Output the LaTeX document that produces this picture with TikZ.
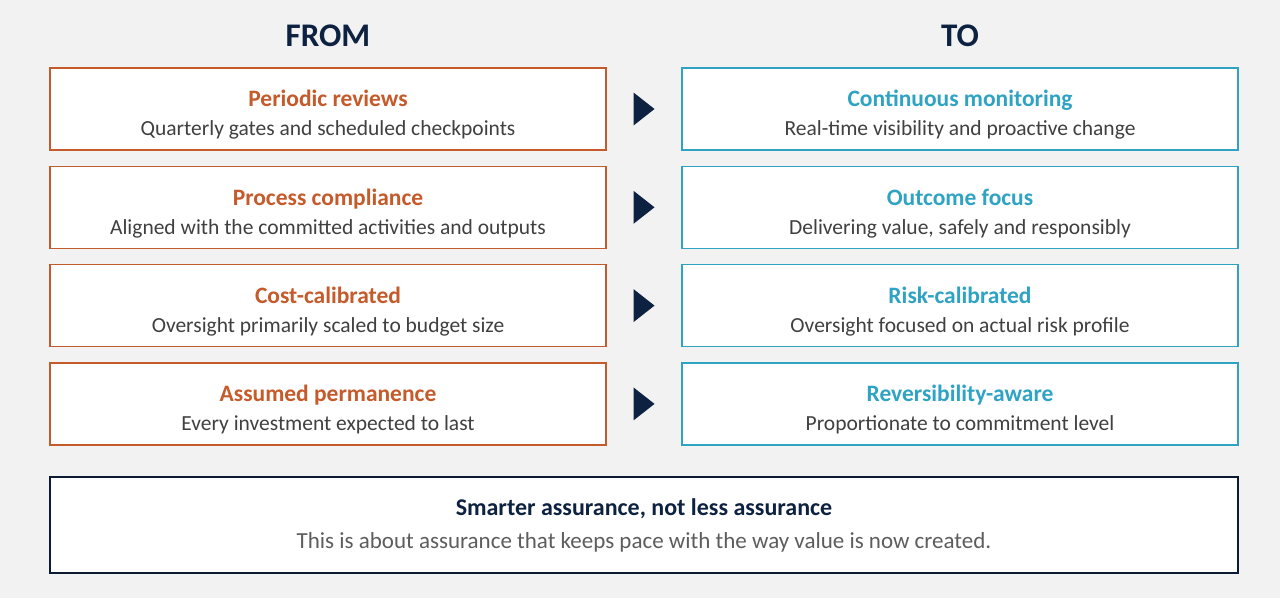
\documentclass[tikz,border=0pt]{standalone}
\usepackage{fontspec}
\setmainfont{Carlito}
\usepackage{tikz}
\usetikzlibrary{positioning}
\usetikzlibrary{calc}

\definecolor{navy}{HTML}{0D2240}
\definecolor{rust}{HTML}{C55A2A}
\definecolor{teal}{HTML}{2FA3C4}
\definecolor{slate}{HTML}{404040}
\definecolor{paper}{HTML}{F2F2F2}

\newcommand{\pair}[3]{{\color{#1}\bfseries\fontsize{23.5}{29}\selectfont\rule{0pt}{28.5pt}#2}\\{\color{slate}\fontsize{21.5}{29}\selectfont #3}}

\begin{document}
\begin{tikzpicture}

  \tikzstyle{frombox}=[rectangle, draw = rust, line width = 1.3pt, fill = white, minimum width = 556pt, minimum height = 82pt, align = center, inner sep = 0pt, node distance = 15pt, font = \fontsize{22}{29}\selectfont]
  \tikzstyle{tobox}=[frombox, draw = teal]
  \tikzstyle{heading}=[text = navy, font = \bfseries\fontsize{33}{38}\selectfont]
  \tikzstyle{pointer}=[fill = navy]

  \fill[paper] (0,0) rectangle (1280pt,-598pt);
  \useasboundingbox (0,0) rectangle (1280pt,-598pt);

  \node[frombox] (from1) at (328pt,-109pt) {\pair{rust}{Periodic reviews}{Quarterly gates and scheduled checkpoints}};
  \node[frombox] (from2) [below = of from1] {\pair{rust}{Process compliance}{Aligned with the committed activities and outputs}};
  \node[frombox] (from3) [below = of from2] {\pair{rust}{Cost-calibrated}{Oversight primarily scaled to budget size}};
  \node[frombox] (from4) [below = of from3] {\pair{rust}{Assumed permanence}{Every investment expected to last}};

  \node[tobox] (to1) at (960pt,-109pt) {\pair{teal}{Continuous monitoring}{Real-time visibility and proactive change}};
  \node[tobox] (to2) [below = of to1] {\pair{teal}{Outcome focus}{Delivering value, safely and responsibly}};
  \node[tobox] (to3) [below = of to2] {\pair{teal}{Risk-calibrated}{Oversight focused on actual risk profile}};
  \node[tobox] (to4) [below = of to3] {\pair{teal}{Reversibility-aware}{Proportionate to commitment level}};

  \node[heading] (from) [above = 17pt of from1] {FROM};
  \node[heading] (to) [above = 17pt of to1] {TO};

  % arrows between the columns
  \foreach \i in {1,...,4} {
    \coordinate (mid\i) at ($(from\i.east)!0.5!(to\i.west)$);
    \fill[pointer] ($(mid\i)+(-10.5pt,16.5pt)$) -- ($(mid\i)+(10.5pt,0pt)$) -- ($(mid\i)+(-10.5pt,-16.5pt)$) -- cycle;
  }

  \node[rectangle, draw = navy!80!black, line width = 2pt, fill = white, minimum width = 1188pt, minimum height = 96pt, align = center, inner sep = 0pt, font = \fontsize{22}{33}\selectfont] (summary) at (644pt,-525pt)
    {{\color{navy}\bfseries\fontsize{24}{33}\selectfont Smarter assurance, not less assurance}\\{\color{slate!85}\fontsize{23}{33}\selectfont This is about assurance that keeps pace with the way value is now created.}};

\end{tikzpicture}
\end{document}
